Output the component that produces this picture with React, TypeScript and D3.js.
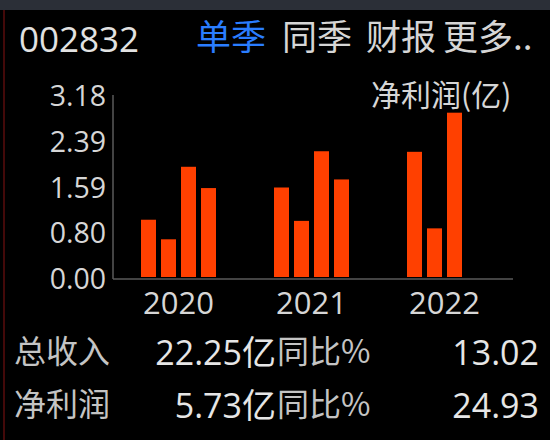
import React from "react";
import * as d3 from "d3";

const years = ["2020", "2021", "2022"];
const quarters = ["Q1", "Q2", "Q3", "Q4"];
const profit2020 = [1.03, 0.69, 1.95, 1.58];
const profit2021 = [1.59, 1.01, 2.22, 1.73];
const profit2022 = [2.21, 0.88, 2.89];
const seriesByYear = [profit2020, profit2021, profit2022];
const tickValues = [0, 0.795, 1.59, 2.385, 3.18];
const tickLabels = ["0.00", "0.80", "1.59", "2.39", "3.18"];
const stockCode = "002832";
const tabs = ["单季", "同季", "财报", "更多.."];
const unitLabel = "净利润(亿)";
const summaryLabels = ["总收入", "净利润"];
const summaryValues = ["22.25亿", "5.73亿"];
const yoyLabel = "同比%";
const yoyValues = ["13.02", "24.93"];

const W = 550;
const H = 440;
const LATIN = "'Open Sans', 'Noto Sans CJK SC', sans-serif";
const CJK = "'Noto Sans CJK SC', 'Open Sans', sans-serif";
const BAR = "#ff4000";
const TEXT = "#d6d6d6";

export default function App() {
  const x = d3.scaleBand<string>().domain(years).range([112, 511]);
  const y = d3.scaleLinear().domain([0, 3.18]).range([279, 96]);
  const q = d3
    .scaleBand<string>()
    .domain(quarters)
    .range([0, 80])
    .paddingInner(0.25)
    .paddingOuter(0.125);

  const tabX = [196, 282, 366, 443];

  return (
    <svg
      width={W}
      height={H}
      style={{ position: "fixed", left: 0, top: 0, background: "#000" }}
    >
      <rect x={0} y={0} width={W} height={H} fill="#000" />
      <rect x={0} y={0} width={W} height={10} fill="#2b2f37" />
      <line x1={4} x2={4} y1={10} y2={H} stroke="#5a0c0c" strokeWidth={1.5} />

      <text x={19} y={52} fontFamily={LATIN} fontSize={35} fill="#e2e2e2">
        {stockCode}
      </text>
      {tabs.map((t, i) => (
        <text
          key={t}
          x={tabX[i]}
          y={50}
          fontFamily={CJK}
          fontSize={35}
          fill={i === 0 ? "#2a7dff" : TEXT}
        >
          {t}
        </text>
      ))}

      <text x={371} y={106} fontFamily={CJK} fontSize={30} fill={TEXT}>
        {unitLabel}
      </text>

      {/* axes */}
      <line x1={113} x2={113} y1={y(3.18) - 1} y2={y(0)} stroke="#5a5a5a" strokeWidth={1.5} />
      <line x1={113} x2={513} y1={y(0)} y2={y(0)} stroke="#5a5a5a" strokeWidth={1.5} />

      {tickValues.map((v, i) => (
        <text
          key={i}
          x={106}
          y={y(v) + 10}
          textAnchor="end"
          fontFamily={LATIN}
          fontSize={28.5}
          fill={TEXT}
        >
          {tickLabels[i]}
        </text>
      ))}

      {years.map((yr, gi) => {
        const center = (x(yr) as number) + x.bandwidth() / 2;
        const g0 = center - 40;
        return (
          <g key={yr}>
            {seriesByYear[gi].map((v, qi) => (
              <rect
                key={qi}
                x={g0 + (q(quarters[qi]) as number)}
                y={y(v)}
                width={q.bandwidth()}
                height={y(0) - 2 - y(v)}
                fill={BAR}
              />
            ))}
            <text
              x={center}
              y={314}
              textAnchor="middle"
              fontFamily={LATIN}
              fontSize={31}
              fill={TEXT}
            >
              {yr}
            </text>
          </g>
        );
      })}

      {summaryLabels.map((lab, i) => {
        const by = 365 + i * 53;
        return (
          <g key={lab}>
            <text x={14} y={by - 2} fontFamily={CJK} fontSize={32} fill="#c4c4c4">
              {lab}
            </text>
            <text
              x={276}
              y={by}
              textAnchor="end"
              fontFamily={LATIN}
              fontSize={34}
              fill="#e6e6e6"
            >
              {summaryValues[i]}
            </text>
            <text x={277} y={by - 2} fontFamily={CJK} fontSize={32} fill="#c4c4c4">
              {yoyLabel}
            </text>
            <text
              x={539}
              y={by}
              textAnchor="end"
              fontFamily={LATIN}
              fontSize={34}
              fill="#e6e6e6"
            >
              {yoyValues[i]}
            </text>
          </g>
        );
      })}
    </svg>
  );
}
